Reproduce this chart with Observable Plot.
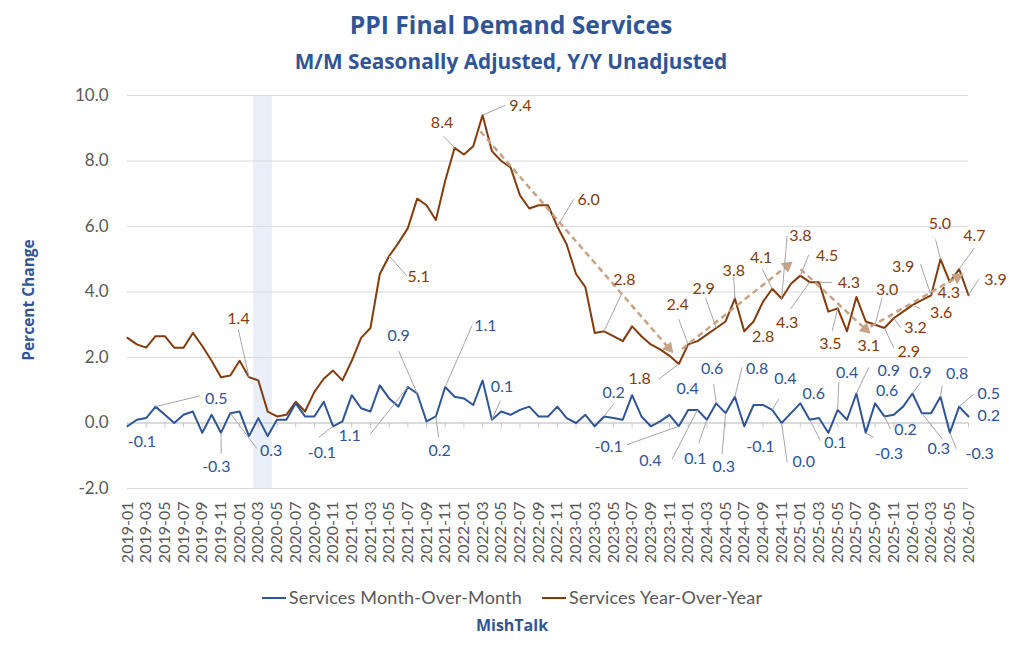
<!DOCTYPE html>
<html>
<head>
<meta charset="utf-8">
<script src="https://cdn.jsdelivr.net/npm/d3@7"></script>
<script src="https://cdn.jsdelivr.net/npm/@observablehq/plot@0.6"></script>
<style>
  html, body { margin: 0; padding: 0; background: #fff; }
  #wrap { position: relative; width: 1024px; height: 660px; overflow: hidden; font-family: Lato, "Open Sans", sans-serif; }
  .title { position: absolute; left: 0; width: 1022px; text-align: center; font-family: "Open Sans", sans-serif; font-weight: bold; color: #2F5597; white-space: nowrap; }
  #t1 { top: 8px; font-size: 24.7px; line-height: 34px; }
  #t2 { top: 46px; font-size: 20.8px; line-height: 30px; }
  #chart { position: absolute; left: 0; top: 80px; }
  #legend { position: absolute; left: 0; top: 586px; width: 1024px; text-align: center; font-size: 18px; color: #595959; white-space: nowrap; }
  #legend span.sw { display: inline-block; width: 24px; height: 2px; vertical-align: middle; margin-right: 3px; position: relative; top: -1px; }
  #legend span.item { margin: 0 10px; letter-spacing: 0.2px; }
  #src { position: absolute; left: 0; top: 614px; width: 1024px; text-align: center; font-family: "Open Sans", sans-serif; font-weight: bold; font-size: 16px; color: #2F5597; }
</style>
</head>
<body>
<div id="wrap">
  <div class="title" id="t1">PPI Final Demand Services</div>
  <div class="title" id="t2">M/M Seasonally Adjusted, Y/Y Unadjusted</div>
  <div id="chart"></div>
  <div id="legend"></div>
  <div id="src">MishTalk</div>
</div>
<script>
// ---------------- data ----------------
const months = d3.utcMonth
  .range(new Date(Date.UTC(2019, 0, 1)), new Date(Date.UTC(2026, 7, 1)))
  .map(d3.utcFormat("%Y-%m")); // 2019-01 … 2026-07

// Services Month-Over-Month (seasonally adjusted), %
const mom = [
  -0.1, 0.1, 0.15, 0.5, 0.25, 0.0, 0.25, 0.35, -0.3, 0.25, -0.3, 0.3,
  0.35, -0.4, 0.15, -0.4, 0.1, 0.1, 0.6, 0.2, 0.2, 0.65, -0.1, 0.05,
  0.85, 0.45, 0.35, 1.15, 0.75, 0.5, 1.1, 0.9, 0.05, 0.2, 1.1, 0.8,
  0.75, 0.55, 1.3, 0.1, 0.35, 0.25, 0.4, 0.5, 0.2, 0.2, 0.5, 0.15,
  0.0, 0.25, -0.1, 0.2, 0.15, 0.1, 0.85, 0.2, -0.1, 0.05, 0.25, -0.1,
  0.4, 0.4, 0.1, 0.6, 0.3, 0.8, -0.1, 0.55, 0.55, 0.4, 0.0, 0.3,
  0.6, 0.1, 0.15, -0.3, 0.4, 0.1, 0.9, -0.3, 0.6, 0.2, 0.25, 0.5,
  0.9, 0.3, 0.3, 0.8, -0.3, 0.5, 0.2
];

// Services Year-Over-Year (unadjusted), %
const yoy = [
  2.6, 2.4, 2.3, 2.65, 2.65, 2.3, 2.3, 2.75, 2.35, 1.9, 1.4, 1.45,
  1.9, 1.4, 1.3, 0.35, 0.2, 0.25, 0.65, 0.35, 0.95, 1.35, 1.6, 1.3,
  1.9, 2.6, 2.9, 4.55, 5.1, 5.5, 5.95, 6.85, 6.65, 6.2, 7.4, 8.4,
  8.2, 8.45, 9.4, 8.3, 8.0, 7.8, 6.95, 6.55, 6.65, 6.65, 6.0, 5.45,
  4.55, 4.15, 2.75, 2.8, 2.65, 2.5, 2.95, 2.65, 2.4, 2.25, 2.05, 1.8,
  2.4, 2.5, 2.7, 2.9, 3.1, 3.8, 2.8, 3.1, 3.7, 4.1, 3.8, 4.25,
  4.5, 4.3, 4.3, 3.4, 3.5, 2.8, 3.85, 3.1, 3.0, 2.9, 3.2, 3.4,
  3.6, 3.75, 3.9, 5.0, 4.3, 4.7, 3.9
];

const yTicks = [-2, 0, 2, 4, 6, 8, 10];
const recession = [["2020-03", "2020-04"]];

// data-label placements: [month, label x (month index), label y (value), leader end x, leader end y]
const yoyLabels = [
  ["2020-02", 11.88, 3.17, 11.85, 2.87],
  ["2021-05", 31.15, 4.46, 29.91, 4.49],
  ["2021-12", 33.66, 9.16, 33.83, 8.76],
  ["2022-03", 42.04, 9.67, 40.43, 9.70],
  ["2022-11", 49.35, 6.80, 47.75, 6.83],
  ["2023-04", 53.17, 4.36, 52.93, 3.98],
  ["2023-12", 54.81, 1.34, 56.85, 1.34],
  ["2024-01", 58.88, 3.61, 58.99, 3.17],
  ["2024-04", 61.66, 4.09, 61.85, 3.83],
  ["2024-06", 64.88, 4.66, 64.88, 4.44],
  ["2024-07", 68.02, 2.63, null, null],
  ["2024-10", 67.81, 5.05, 67.92, 4.70],
  ["2024-11", 72.02, 5.71, 70.59, 5.71],
  ["2025-01", 74.87, 5.10, 72.90, 5.13],
  ["2025-02", 70.59, 3.07, 70.95, 3.48],
  ["2025-03", 77.19, 4.29, 75.41, 4.29],
  ["2025-05", 75.23, 2.41, 75.41, 2.81],
  ["2025-08", 79.33, 2.36, null, null],
  ["2025-09", 81.30, 4.05, 80.76, 3.83],
  ["2025-10", 83.61, 2.18, 82.00, 2.30],
  ["2025-11", 84.33, 2.90, 82.72, 2.91],
  ["2026-01", 87.08, 3.36, 84.86, 3.49],
  ["2026-03", 83.01, 4.77, 84.86, 4.85],
  ["2026-04", 86.93, 6.09, 86.47, 5.61],
  ["2026-05", 87.89, 3.96, null, null],
  ["2026-06", 90.64, 5.71, 90.64, 5.35],
  ["2026-07", 92.89, 4.36, 91.10, 4.39]
];
const momLabels = [
  ["2019-01", 1.54, -0.59, null, null],
  ["2019-04", 9.50, 0.75, 7.78, 0.83],
  ["2019-11", 9.50, -1.35, 10.03, -0.94],
  ["2019-12", 15.38, -0.84, 13.85, -0.78],
  ["2020-11", 20.81, -0.90, 20.45, -0.44],
  ["2021-07", 23.77, -0.39, 25.98, -0.34],
  ["2021-08", 29.01, 2.66, 29.01, 2.20],
  ["2021-10", 33.40, -0.84, 33.29, -0.44],
  ["2021-11", 38.29, 2.97, 36.87, 2.97],
  ["2022-04", 40.08, 1.09, 39.90, 0.68],
  ["2023-04", 52.03, 0.93, 52.03, 0.58],
  ["2023-12", 51.49, -0.72, 53.46, -0.66],
  ["2024-01", 59.95, 1.04, null, null],
  ["2024-02", 55.96, -1.15, 58.28, -1.10],
  ["2024-03", 60.78, -1.10, 61.13, -0.62],
  ["2024-04", 62.56, 1.65, 62.73, 1.19],
  ["2024-05", 63.81, -1.35, 63.63, -0.95],
  ["2024-06", 67.38, 1.65, 65.77, 1.70],
  ["2024-07", 67.73, -0.74, null, null],
  ["2024-10", 70.41, 1.34, 69.69, 0.73],
  ["2024-11", 72.37, -1.20, 70.59, -1.20],
  ["2025-01", 73.44, 0.88, null, null],
  ["2025-02", 75.76, -0.62, 74.16, -0.54],
  ["2025-05", 77.01, 1.54, 76.12, 1.24],
  ["2025-07", 81.47, 1.59, 79.33, 1.70],
  ["2025-08", 81.47, -0.95, 79.86, -0.44],
  ["2025-09", 81.30, 0.98, null, null],
  ["2025-10", 83.26, -0.21, 81.65, -0.18],
  ["2026-01", 84.86, 1.54, 84.86, 1.24],
  ["2026-02", 86.82, -0.79, 87.18, -0.49],
  ["2026-04", 88.79, 1.49, 87.18, 1.14],
  ["2026-05", 91.20, -0.93, 88.70, -0.79],
  ["2026-06", 92.17, 0.88, 90.57, 0.88],
  ["2026-07", 92.17, 0.22, null, null]
];

// dashed trend arrows: [x1 (month index), y1, x2, y2]
const trends = [
  [37.76, 8.91, 57.92, 2.29],
  [59.35, 2.26, 70.59, 4.80],
  [72.02, 4.70, 78.97, 2.87],
  [79.50, 2.94, 88.80, 4.45]
];

// ---------------- styles / layout ----------------
const BLUE = "#2F5597", BROWN = "#843C0C", TAN = "#C8A285", GRID = "#D9D9D9", LEAD = "#A6A6A6", GRAY = "#595959";
const W = 1024, H = 498, mT = 15, mB = 90, mL = 127, mR = 56;

// ---------------- build ----------------
const idx = m => months.indexOf(m);
const rows = months.map((m, i) => ({i, month: m, mom: mom[i], yoy: yoy[i]}));
const fmt = v => v.toFixed(1);
const mkLabels = (arr, series) => arr.map(([m, tx, ty, ex, ey]) => {
  const i = idx(m);
  return {i, v: series[i], text: fmt(series[i]), tx, ty, ex, ey};
});
const yl = mkLabels(yoyLabels, yoy);
const ml = mkLabels(momLabels, mom);
const evenIdx = months.map((m, i) => i).filter(i => i % 2 === 0);

const kx = (W - mL - mR) / (months.length - 1);
const ky = (H - mT - mB) / (yTicks[yTicks.length - 1] - yTicks[0]);
const heads = trends.map(([x1, y1, x2, y2]) => ({
  x: x2, y: y2,
  angle: Math.atan2((x2 - x1) * kx, (y2 - y1) * ky) * 180 / Math.PI
}));

const plot = Plot.plot({
  width: W, height: H,
  marginTop: mT, marginBottom: mB, marginLeft: mL, marginRight: mR,
  style: {fontFamily: "Lato, 'Open Sans', sans-serif", color: GRAY, background: "transparent"},
  x: {type: "linear", domain: [0, months.length - 1]},
  y: {domain: [yTicks[0], yTicks[yTicks.length - 1]]},
  marks: [
    Plot.rect(recession, {x1: d => idx(d[0]) - 0.5, x2: d => idx(d[1]) + 0.5, fill: "#E9EFF8"}),
    Plot.ruleY(yTicks, {stroke: GRID, strokeWidth: 1}),
    Plot.ruleY([0], {stroke: "#C8C8C8", strokeWidth: 1}),
    Plot.ruleX(evenIdx, {x: d => d, y1: 0, y2: 0, insetBottom: -5, stroke: "#C8C8C8"}),
    Plot.axisY({ticks: yTicks, tickFormat: fmt, tickSize: 0, tickPadding: 19, fontSize: 17, label: null}),
    Plot.axisX({ticks: evenIdx, tickFormat: i => months[i], tickRotate: -90, tickSize: 0, tickPadding: 13, fontSize: 16, label: null}),
    Plot.text(["Percent Change"], {frameAnchor: "left", textAnchor: "middle", rotate: -90, dx: -98, dy: 8, fontSize: 15.5, fontWeight: "bold", fill: BLUE, fontFamily: "'Open Sans', sans-serif"}),
    Plot.line(rows, {x: "i", y: "yoy", stroke: BROWN, strokeWidth: 2}),
    Plot.line(rows, {x: "i", y: "mom", stroke: BLUE, strokeWidth: 2}),
    Plot.link(trends, {x1: d => d[0], y1: d => d[1], x2: d => d[2], y2: d => d[3], stroke: TAN, strokeWidth: 2.5, strokeDasharray: "6,4"}),
    Plot.dot(heads, {x: "x", y: "y", rotate: "angle", symbol: "triangle", r: 4.5, fill: TAN, stroke: "none"}),
    Plot.link(yl.filter(d => d.ex != null), {x1: "i", y1: "v", x2: "ex", y2: "ey", stroke: LEAD, strokeWidth: 1}),
    Plot.link(ml.filter(d => d.ex != null), {x1: "i", y1: "v", x2: "ex", y2: "ey", stroke: LEAD, strokeWidth: 1}),
    Plot.text(yl, {x: "tx", y: "ty", text: "text", fill: BROWN, fontSize: 16}),
    Plot.text(ml, {x: "tx", y: "ty", text: "text", fill: BLUE, fontSize: 16})
  ]
});
document.getElementById("chart").appendChild(plot);

// legend
const series = [["Services Month-Over-Month", BLUE], ["Services Year-Over-Year", BROWN]];
document.getElementById("legend").innerHTML = series
  .map(([name, c]) => `<span class="item"><span class="sw" style="background:${c}"></span>${name}</span>`)
  .join("");
</script>
</body>
</html>
